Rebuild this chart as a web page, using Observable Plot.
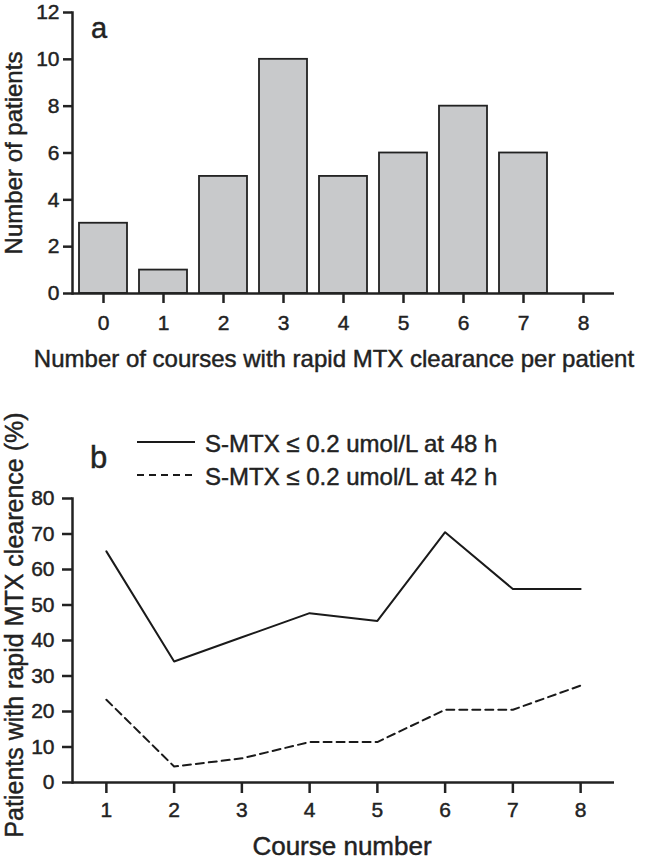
<!DOCTYPE html>
<html><head><meta charset="utf-8">
<script src="https://cdn.jsdelivr.net/npm/d3@7"></script>
<script src="https://cdn.jsdelivr.net/npm/@observablehq/plot@0.6"></script>
<style>
body{margin:0;background:#fff;}
#wrap{position:relative;width:650px;height:860px;overflow:hidden;font-family:"Liberation Sans",Arial,sans-serif;color:#222;}
#wrap > svg, #wrap > figure{position:absolute;left:0;margin:0;}
#wrap text{stroke:#222;stroke-width:0.45px;paint-order:stroke;}
</style></head><body><div id="wrap"></div>
<script>
// Panel a data
const coursesA = [0, 1, 2, 3, 4, 5, 6, 7, 8];
const patientsA = [3, 1, 5, 10, 5, 6, 8, 6, 0];
const yTicksA = [0, 2, 4, 6, 8, 10, 12];

// Panel b data
const courseNumber = [1, 2, 3, 4, 5, 6, 7, 8];
const pct48h = [65.1, 34.1, 40.9, 47.7, 45.5, 70.5, 54.5, 54.5];
const pct42h = [23.3, 4.5, 6.8, 11.4, 11.4, 20.5, 20.5, 27.3];
const xTicksB = [1, 2, 3, 4, 5, 6, 7, 8];
const yTicksB = [0, 10, 20, 30, 40, 50, 60, 70, 80];

const seriesNames = ["S-MTX \u2264 0.2 umol/L at 48 h", "S-MTX \u2264 0.2 umol/L at 42 h"];

const FONT = "Liberation Sans, Arial, Helvetica, sans-serif";
const INK = "#222";

const barData = coursesA.map((c, i) => ({course: c, n: patientsA[i]}));
const line48 = courseNumber.map((c, i) => ({course: c, pct: pct48h[i]}));
const line42 = courseNumber.map((c, i) => ({course: c, pct: pct42h[i]}));

const chartA = Plot.plot({
  width: 650, height: 380,
  marginLeft: 72, marginRight: 36, marginTop: 12, marginBottom: 87,
  style: {fontFamily: FONT, fontSize: "21px", color: INK, background: "transparent", overflow: "visible"},
  x: {type: "band", domain: coursesA, paddingInner: 0.2, paddingOuter: 0.1, label: null},
  y: {domain: [0, 12], label: null},
  marks: [
    Plot.barY(barData, {x: "course", y: "n", fill: "#c8c9cb", stroke: INK, strokeWidth: 1.8}),
    Plot.axisX({tickSize: 10, tickPadding: 12, strokeWidth: 2.5, stroke: INK, fill: INK, fontSize: 21, label: null}),
    Plot.axisY({ticks: yTicksA, tickSize: 9, tickPadding: 4, strokeWidth: 2.5, stroke: INK, fill: INK, fontSize: 21, label: null}),
    Plot.frame({anchor: "left", stroke: INK, strokeWidth: 2.5}),
    Plot.ruleY([0], {stroke: INK, strokeWidth: 2.5})
  ]
});

const chartB = Plot.plot({
  width: 650, height: 480,
  marginLeft: 72, marginRight: 36, marginTop: 118, marginBottom: 78,
  style: {fontFamily: FONT, fontSize: "21px", color: INK, background: "transparent", overflow: "visible"},
  x: {domain: [0.5, 8.5], label: null},
  y: {domain: [0, 80], label: null},
  marks: [
    Plot.line(line48, {x: "course", y: "pct", stroke: "#1a1a1a", strokeWidth: 2}),
    Plot.line(line42, {x: "course", y: "pct", stroke: "#1a1a1a", strokeWidth: 2, strokeDasharray: "8,5"}),
    Plot.axisX({ticks: xTicksB, tickFormat: d3.format("d"), tickSize: 11, tickPadding: 9, strokeWidth: 2.5, stroke: INK, fill: INK, fontSize: 21, label: null}),
    Plot.axisY({ticks: yTicksB, tickSize: 10, tickPadding: 8, strokeWidth: 2.5, stroke: INK, fill: INK, fontSize: 21, label: null}),
    Plot.frame({anchor: "left", stroke: INK, strokeWidth: 2.5}),
    Plot.ruleY([0], {stroke: INK, strokeWidth: 2.5})
  ]
});

const wrap = document.getElementById("wrap");
chartA.style.top = "0px";
chartB.style.top = "380px";
wrap.appendChild(chartA);
wrap.appendChild(chartB);

// Overlay: panel letters, axis titles, legend
const ov = d3.select(wrap).append("svg")
  .attr("width", 650).attr("height", 860)
  .style("position", "absolute").style("left", "0px").style("top", "0px")
  .style("pointer-events", "none")
  .attr("font-family", FONT).attr("fill", INK);

function txt(s, x, y, size, anchor, rot) {
  const t = ov.append("text").text(s).attr("font-size", size).attr("text-anchor", anchor || "start");
  if (rot) t.attr("transform", `translate(${x},${y}) rotate(${rot})`);
  else t.attr("x", x).attr("y", y);
  return t;
}

txt("a", 91, 38, 29);
txt("b", 90, 468, 31);
txt("Number of patients", 22, 153, 24, "middle", -90);
txt("Number of courses with rapid MTX clearance per patient", 334, 367, 24, "middle");
txt("Patients with rapid MTX clearence (%)", 23, 625, 25, "middle", -90);
txt("Course number", 342, 855, 26, "middle");

// legend
const legendY = [442, 475];
const dashes = [null, "7,5"];
seriesNames.forEach((name, i) => {
  const l = ov.append("line").attr("x1", 137).attr("x2", 195)
    .attr("y1", legendY[i]).attr("y2", legendY[i])
    .attr("stroke", "#1a1a1a").attr("stroke-width", 2);
  if (dashes[i]) l.attr("stroke-dasharray", dashes[i]);
  txt(name, 205, legendY[i] + 10, 24);
});
</script>
</body></html>
